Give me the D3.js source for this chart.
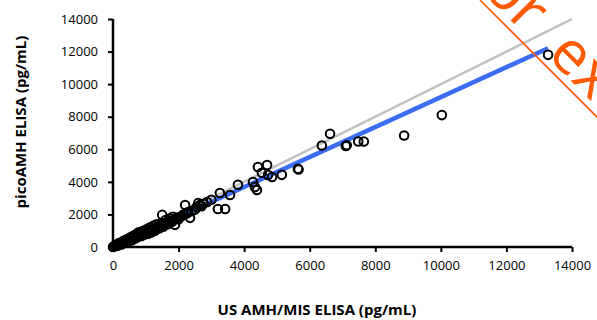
<!DOCTYPE html>
<html><head><meta charset="utf-8">
<script src="https://cdn.jsdelivr.net/npm/d3@7"></script>
<style>html,body{margin:0;padding:0;background:#fff;}svg{display:block;}</style>
</head><body>
<svg id="chart" width="597" height="320"></svg>
<script>
const usAMH = [13270,10030,8880,7480,7650,7100,7130,6370,6620,5640,5660,5150,
4700,4420,4540,4730,4850,4270,4330,4390,3810,3260,3570,3200,3420,2870,3000,2600,2650,2200,2290,2350,2040,1830,1890,1500,
1650,1750,1560,1450,1380,1300,1250,1200,1150,1100,1050,1000,950,900,850,800,780,700,650,600,550,500,450,400,350,300,250,200,150,100,50,20,0,
80,120,180,260,320,380,420,480,530,580,630,680,720,760,820,870,920,970,1020,1070,1120,1180,1230,1280,1330,1420,1480,1530,1600,1680,1720,1800,1880,1950,2000,2100,2150,2250,2400,2500,2550,2700,2750];
const picoAMH = [11800,8100,6850,6480,6480,6200,6250,6230,6950,4800,4760,4430,
5030,4910,4560,4420,4300,3990,3690,3500,3820,3320,3190,2330,2330,2760,2900,2700,2580,2580,2150,1790,1840,1850,1360,1970,
1520,1600,1380,1300,1250,1180,1050,1100,1000,980,900,950,870,820,780,700,900,650,600,560,480,450,420,380,330,270,240,180,130,90,60,30,0,
120,60,250,160,380,300,480,360,600,420,700,520,800,620,880,680,1000,760,1080,820,1200,900,1300,1000,1400,1150,1480,1250,1650,1400,1750,1550,1700,1800,1700,1900,2000,2050,2200,2300,2450,2500,2650];
const xTicks = [0,2000,4000,6000,8000,10000,12000,14000];
const yTicks = [0,2000,4000,6000,8000,10000,12000,14000];
const identityLine = [[0,0],[14000,14000]];
const fitSlope = 0.92;
const fitRange = [0,13270];
const xTitle = "US AMH/MIS ELISA (pg/mL)";
const yTitle = "picoAMH ELISA (pg/mL)";
const watermark = "For example";

const svg = d3.select("#chart");
const x = d3.scaleLinear().domain([0,14000]).range([113,572]);
const y = d3.scaleLinear().domain([0,14000]).range([247,19]);
const font = "'Open Sans', sans-serif";

// axes
const xAxis = svg.append("g").attr("transform","translate(0,247)")
  .call(d3.axisBottom(x).tickValues(xTicks).tickSize(5).tickPadding(9).tickFormat(d3.format("d")));
const yAxis = svg.append("g").attr("transform","translate(113,0)")
  .call(d3.axisLeft(y).tickValues(yTicks).tickSize(5).tickPadding(10).tickFormat(d3.format("d")));
[xAxis,yAxis].forEach(a=>{
  a.select(".domain").attr("stroke","#000").attr("stroke-width",2.5);
  a.selectAll(".tick line").attr("stroke","#000").attr("stroke-width",2);
  a.selectAll(".tick text").attr("font-family",font).attr("font-size",13).attr("fill","#000");
});
xAxis.select(".domain").attr("d","M113,0H572");
yAxis.select(".domain").attr("d","M0,247V19");

// identity line
const line = d3.line().x(d=>x(d[0])).y(d=>y(d[1]));
svg.append("path").datum(identityLine).attr("d",line)
  .attr("stroke","#c0c0c0").attr("stroke-width",2.5).attr("fill","none");
// fit line
svg.append("path").datum(fitRange.map(v=>[v,v*fitSlope])).attr("d",line)
  .attr("stroke","#3a6cf4").attr("stroke-width",4.5).attr("fill","none");

// points
svg.append("g").selectAll("circle").data(usAMH.map((v,i)=>[v,picoAMH[i]])).join("circle")
  .attr("cx",d=>x(d[0])).attr("cy",d=>y(d[1])).attr("r",4.3)
  .attr("fill","none").attr("stroke","#000").attr("stroke-width",2);

// titles
svg.append("text").attr("x",317).attr("y",315).attr("text-anchor","middle")
  .attr("font-family",font).attr("font-weight","bold").attr("font-size",15).text(xTitle);
svg.append("text").attr("transform","translate(26,122) rotate(-90)").attr("text-anchor","middle")
  .attr("font-family",font).attr("font-weight","bold").attr("font-size",15).text(yTitle);

// watermark
const wm = svg.append("g").attr("transform","translate(480,0) rotate(45)");
wm.append("line").attr("x1",0).attr("y1",0).attr("x2",170).attr("y2",0)
  .attr("stroke","#ff5a00").attr("stroke-width",1.6);
wm.append("text").attr("x",-36).attr("y",-7).attr("font-family",font).attr("font-size",60)
  .attr("word-spacing",15).attr("fill","#ff5a00").text(watermark);
</script>
</body></html>
